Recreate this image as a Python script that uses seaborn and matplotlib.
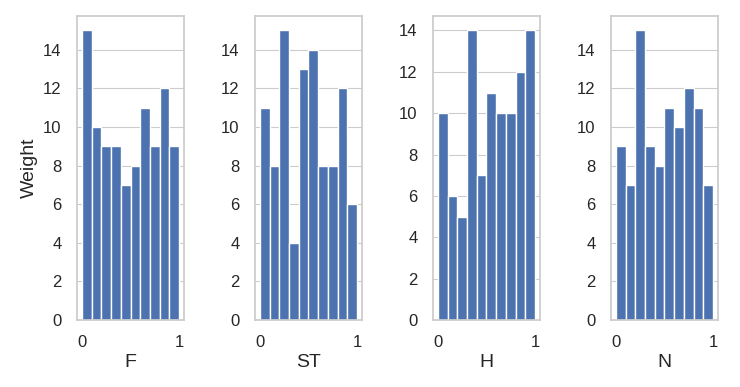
import numpy as np
import matplotlib
matplotlib.use("Agg")
import matplotlib.pyplot as plt
import seaborn as sns

bin_centers = [0.05, 0.15, 0.25, 0.35, 0.45, 0.55, 0.65, 0.75, 0.85, 0.95]
labels = ["F", "ST", "H", "N"]
F_vals = [15, 10, 9, 9, 7, 8, 11, 9, 12, 9]
ST_vals = [11, 8, 15, 4, 13, 14, 8, 8, 12, 6]
H_vals = [10, 6, 5, 14, 7, 11, 10, 10, 12, 14]
N_vals = [9, 7, 15, 9, 8, 11, 10, 12, 11, 7]
series = [F_vals, ST_vals, H_vals, N_vals]

sns.set_theme(style="whitegrid", rc={"grid.linewidth": 0.8})
plt.rcParams["font.family"] = ["Liberation Sans", "DejaVu Sans"]
fig, axes = plt.subplots(1, 4, figsize=(7.4, 3.87), dpi=100)
fig.subplots_adjust(left=77/740, right=718/740, top=1-16/387, bottom=1-320/387,
                    wspace=71/107)
for ax, lab, vals in zip(axes, labels, series):
    sns.histplot(x=bin_centers, weights=vals, bins=10, binrange=(0, 1),
                 ax=ax, alpha=1.0, color="#4c72b0", edgecolor="white", linewidth=1.0)
    ax.set_xlabel(lab, fontsize=14, labelpad=3)
    ax.set_ylabel("")
    ax.set_xticks([0, 1])
    ax.set_xticklabels(["0", "1"])
    ax.grid(axis="x", visible=False)
    ax.tick_params(axis="both", labelsize=12, pad=5)
axes[0].set_ylabel("Weight", fontsize=14, labelpad=4)
fig.savefig("out.png", dpi=100)
